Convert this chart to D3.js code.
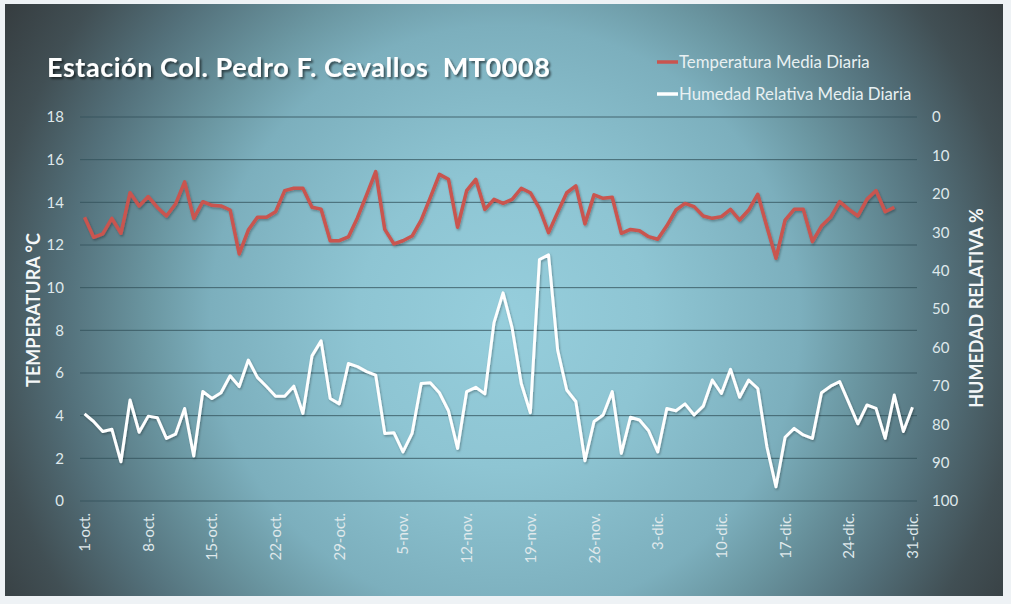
<!DOCTYPE html>
<html><head><meta charset="utf-8">
<script src="https://cdn.jsdelivr.net/npm/d3@7"></script>
<style>html,body{margin:0;padding:0;background:#eef2f5;}svg{display:block;}</style>
</head><body>
<script>
const tickLabels = ["1-oct.","8-oct.","15-oct.","22-oct.","29-oct.","5-nov.","12-nov.","19-nov.","26-nov.","3-dic.","10-dic.","17-dic.","24-dic.","31-dic."];
const tempTicks = [0,2,4,6,8,10,12,14,16,18];
const humTicks = [0,10,20,30,40,50,60,70,80,90,100];
const temperatura = [13.3,12.36,12.52,13.25,12.55,14.45,13.83,14.27,13.76,13.36,
13.92,14.96,13.25,14.03,13.86,13.83,13.64,11.58,12.7,13.3,
13.3,13.56,14.55,14.66,14.66,13.77,13.68,12.2,12.2,12.38,
13.28,14.35,15.44,12.73,12.05,12.2,12.42,13.17,14.22,15.31,
15.08,12.83,14.55,15.08,13.67,14.14,13.95,14.14,14.66,14.45,
13.72,12.58,13.53,14.45,14.77,12.99,14.35,14.19,14.24,12.55,
12.73,12.67,12.39,12.27,12.9,13.64,13.95,13.8,13.36,13.25,
13.33,13.67,13.17,13.64,14.38,12.86,11.38,13.17,13.67,13.67,
12.16,12.89,13.3,14.03,13.67,13.36,14.14,14.55,13.56,13.77];
const humedad = [77.3,79.3,81.9,81.3,89.8,73.7,82.1,77.9,78.3,83.7,
82.6,75.9,88.3,71.5,73.3,71.8,67.4,70.2,63.3,67.8,
70.2,72.7,72.7,70.1,77.2,62.2,58.3,73.3,74.7,64.2,
65.0,66.3,67.2,82.4,82.2,87.2,82.4,69.4,69.2,71.8,
76.5,86.3,71.5,70.4,72.1,53.6,45.8,55.0,69.4,77.0,
37.1,35.9,60.7,71.1,74.1,89.5,79.3,77.6,71.5,87.6,
78.2,78.9,81.7,87.2,75.9,76.5,74.7,77.6,75.3,68.5,
72.0,65.7,73.0,68.5,70.7,85.9,96.3,83.4,81.1,82.8,
83.7,71.8,70.1,68.9,74.4,79.9,75.0,75.9,83.7,72.4,
81.9,75.6];
const title = "Estación Col. Pedro F. Cevallos  MT0008";
const seriesNames = ["Temperatura Media Diaria","Humedad Relativa Media Diaria"];

const W = 1011, H = 604;
const start = new Date(Date.UTC(2015, 9, 1));
const dayOf = i => d3.utcDay.offset(start, i);
const svg = d3.select("body").append("svg").attr("width", W).attr("height", H);
const defs = svg.append("defs");
const rg = defs.append("radialGradient").attr("id","bg").attr("gradientUnits","userSpaceOnUse")
  .attr("cx",505).attr("cy",320).attr("r",590);
[[0,"#96cedc"],[0.25,"#8ec5d3"],[0.5,"#7cafbd"],[0.6,"#6b97a2"],[0.75,"#53707a"],[0.88,"#414f54"],[1,"#363d40"]]
  .forEach(([o,c])=>rg.append("stop").attr("offset",o).attr("stop-color",c));
const sh = defs.append("filter").attr("id","sh").attr("x","-10%").attr("y","-30%").attr("width","130%").attr("height","170%");
sh.append("feDropShadow").attr("dx",2).attr("dy",2).attr("stdDeviation",1.2).attr("flood-color","#000").attr("flood-opacity",0.55);
const lsh = defs.append("filter").attr("id","lsh").attr("x","-5%").attr("y","-5%").attr("width","110%").attr("height","110%");
lsh.append("feDropShadow").attr("dx",1).attr("dy",1.5).attr("stdDeviation",1).attr("flood-color","#000").attr("flood-opacity",0.3);

svg.append("rect").attr("x",5).attr("y",4).attr("width",998).attr("height",592).attr("fill","url(#bg)");

const x0 = 80, x1 = 917, yTop = 117, yBot = 501;
const x = d3.scaleUtc().domain([d3.utcHour.offset(start,-12), d3.utcHour.offset(dayOf(91),12)]).range([x0,x1]);
const yT = d3.scaleLinear().domain([0,18]).range([yBot,yTop]);
const yH = d3.scaleLinear().domain([0,100]).range([yTop,yBot]);

svg.append("g").selectAll("line").data(tempTicks).join("line")
  .attr("x1",x0).attr("x2",x1).attr("y1",d=>yT(d)).attr("y2",d=>yT(d))
  .attr("stroke","#32505a").attr("stroke-opacity",0.8).attr("stroke-width",1);

const font = "Lato, 'Open Sans', sans-serif";
const gl = svg.append("g").attr("transform",`translate(${x0},0)`)
  .call(d3.axisLeft(yT).tickValues(tempTicks).tickSize(0).tickPadding(16));
gl.select(".domain").remove();
gl.selectAll("text").attr("font-family",font).attr("font-size",15).attr("fill","#dfe8eb");
const gr = svg.append("g").attr("transform",`translate(${x1},0)`)
  .call(d3.axisRight(yH).tickValues(humTicks).tickSize(0).tickPadding(15));
gr.select(".domain").remove();
gr.selectAll("text").attr("font-family",font).attr("font-size",15).attr("fill","#dfe8eb");
const tickDates = tickLabels.map((_,i)=>dayOf(i*7));
const gx = svg.append("g").attr("transform",`translate(0,${yBot})`)
  .call(d3.axisBottom(x).tickValues(tickDates).tickSize(0).tickFormat((d,i)=>tickLabels[i]));
gx.select(".domain").remove();
gx.selectAll("text").attr("font-family",font).attr("font-size",15).attr("fill","#dfe8eb")
  .attr("text-anchor","end").attr("dy",null).attr("y",0)
  .attr("transform","translate(5,12) rotate(-90)");

svg.append("text").attr("transform","translate(40,310) rotate(-90)").attr("text-anchor","middle")
  .attr("font-family",font).attr("font-weight","bold").attr("font-size",18).attr("fill","#f4f7f8").text("TEMPERATURA °C");
svg.append("text").attr("transform","translate(983,308) rotate(-90)").attr("text-anchor","middle")
  .attr("font-family",font).attr("font-weight","bold").attr("font-size",18).attr("fill","#f4f7f8").text("HUMEDAD RELATIVA %");

const lineT = d3.line().x((d,i)=>x(dayOf(i))).y(d=>yT(d));
const lineH = d3.line().x((d,i)=>x(dayOf(i))).y(d=>yH(d));
svg.append("path").datum(humedad).attr("d",lineH).attr("fill","none").attr("stroke","#ffffff")
  .attr("stroke-width",3).attr("stroke-linejoin","round").attr("filter","url(#lsh)");
svg.append("path").datum(temperatura).attr("d",lineT).attr("fill","none").attr("stroke","#c9544f")
  .attr("stroke-width",3.5).attr("stroke-linejoin","round").attr("filter","url(#lsh)");

svg.append("text").attr("x",47).attr("y",77).attr("font-family",font).attr("font-weight","bold")
  .attr("font-size",27).attr("letter-spacing",0.55).attr("fill","#ffffff").attr("filter","url(#sh)")
  .style("white-space","pre").text(title);

const leg = svg.append("g");
const legColors = ["#c9544f","#ffffff"];
seriesNames.forEach((n,i)=>{
  const yy = 62 + i*32;
  leg.append("line").attr("x1",657).attr("x2",678).attr("y1",yy).attr("y2",yy).attr("stroke",legColors[i]).attr("stroke-width",3.5);
  leg.append("text").attr("x",679).attr("y",yy+5.5).attr("font-family",font).attr("font-size",16.8).attr("fill","#e8f0f2").text(n);
});
</script>
</body></html>
